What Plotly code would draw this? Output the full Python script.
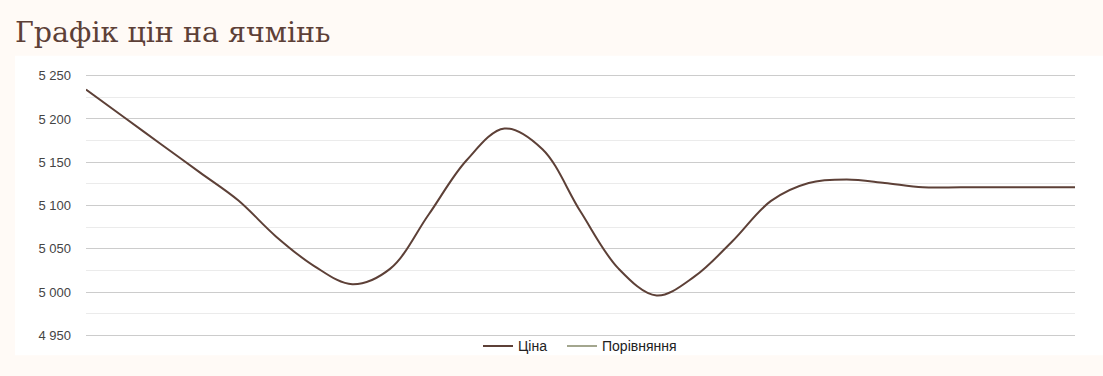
import plotly.graph_objects as go
import pandas as pd

# ---- data (one value per day) ----
dates = [d.strftime("%Y-%m-%d") for d in pd.date_range("2024-03-01", periods=27, freq="D")]
price = [5234, 5202, 5170, 5138, 5106, 5064, 5030, 5009, 5027, 5089,
         5152, 5189, 5165, 5093, 5027, 4996, 5018, 5059, 5105, 5126,
         5130, 5126, 5121, 5121, 5121, 5121, 5121]
compare = [None]
tick_vals = [4950, 5000, 5050, 5100, 5150, 5200, 5250]
tick_text = ["4 950", "5 000", "5 050", "5 100", "5 150", "5 200", "5 250"]
series_names = ["Ціна", "Порівняння"]
title_text = "Графік цін на ячмінь"

W, H = 1103, 376
Y_LO, Y_HI = 4950, 5250
PAD = 2.0                       # value padding so edge gridlines are drawn
L, R = 86, 1075
TOP_PX, BOT_PX = 76, 335        # pixel rows of 5250 and 4950
k = (BOT_PX - TOP_PX) / (Y_HI - Y_LO)
T = TOP_PX - PAD * k
B = BOT_PX + PAD * k
pw, ph = R - L, B - T

def px_x(x):
    return (x - L) / pw

def px_y(y):
    return (B - y) / ph

fig = go.Figure()
fig.add_trace(go.Scatter(
    x=dates, y=price, name=series_names[0], mode="lines", legend="legend",
    line=dict(color="#5d4037", width=2, shape="spline", smoothing=1),
))
fig.add_trace(go.Scatter(
    x=[None], y=compare, name=series_names[1], mode="lines", legend="legend2",
    line=dict(color="#a3a68e", width=2),
))

leg_common = dict(orientation="h", xanchor="left", yanchor="middle",
                  y=px_y(346), bgcolor="rgba(0,0,0,0)",
                  font=dict(family="Liberation Sans, Arial", size=14, color="#222222"),
                  itemwidth=30, tracegroupgap=0)

fig.update_layout(
    width=W, height=H,
    margin=dict(l=L, r=W - R, t=T, b=H - B, pad=0),
    paper_bgcolor="#fffaf6",
    plot_bgcolor="rgba(0,0,0,0)",
    title=dict(text=title_text, xref="container", yref="container",
               x=15 / W, xanchor="left", y=1 - 32 / H, yanchor="middle",
               font=dict(family="DejaVu Serif", size=28.5, color="#5d4037")),
    xaxis=dict(type="date", range=[dates[0], dates[-1]], visible=False,
               showgrid=False, zeroline=False),
    yaxis=dict(range=[Y_LO - PAD, Y_HI + PAD], tickmode="array", tickvals=tick_vals,
               ticktext=tick_text, showgrid=True, gridcolor="#cccccc",
               gridwidth=1, zeroline=False, showline=False, ticks="",
               ticklabelstandoff=14,
               tickfont=dict(family="Liberation Sans, Arial", size=13, color="#444444"),
               minor=dict(tickmode="linear", tick0=4950, dtick=25, showgrid=True,
                          gridcolor="#ebebeb", gridwidth=1)),
    legend=dict(x=px_x(478), **leg_common),
    legend2=dict(x=px_x(562), **leg_common),
    showlegend=True,
    shapes=[dict(type="rect", xref="paper", yref="paper", layer="below",
                 x0=px_x(15), x1=px_x(W + 5), y0=px_y(355), y1=px_y(56),
                 fillcolor="#ffffff", line=dict(width=0))],
)

fig.write_html("out.html")
